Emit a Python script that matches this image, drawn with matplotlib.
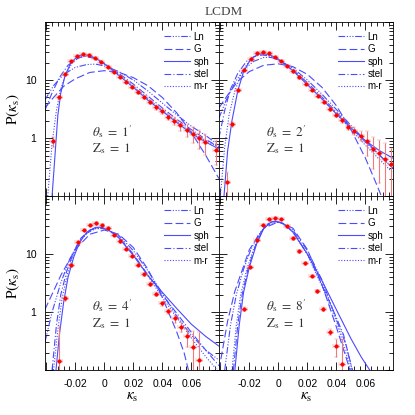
import numpy as np
import matplotlib
matplotlib.use("Agg")
import matplotlib.pyplot as plt
from matplotlib.ticker import MultipleLocator, LogLocator, FuncFormatter, NullFormatter

plt.rcParams['font.family'] = ['Liberation Sans', 'DejaVu Sans']
plt.rcParams['mathtext.fontset'] = 'stix'
plt.rcParams['axes.unicode_minus'] = False

# ---- measured points (kappa, P, fractional error) ----
theta_labels = ["1", "2", "4", "8"]
xtick_labels = {-0.02: '-0.02', 0.0: '0', 0.02: '0.02', 0.04: '0.04', 0.06: '0.06'}
ytick_labels = {1.0: '1', 10.0: '10'}

k1 = [-0.0357, -0.0310, -0.0271, -0.0230, -0.0188, -0.0145, -0.0103, -0.0062, -0.0021,
      0.0023, 0.0064, 0.0108, 0.0150, 0.0191, 0.0232, 0.0274, 0.0315, 0.0357, 0.0400,
      0.0441, 0.0483, 0.0524, 0.0568, 0.0609, 0.0650, 0.0692, 0.0770]
p1 = [0.88, 5.0, 12.7, 21.2, 26.2, 27.9, 26.9, 23.8, 20.7, 17.0, 13.9, 11.4, 9.4, 7.7,
      6.15, 5.05, 4.14, 3.40, 2.87, 2.32, 1.98, 1.65, 1.39, 1.17, 1.0, 0.85, 0.63]
e1 = [0.2, 0.08, 0.06, 0.05, 0.05, 0.05, 0.05, 0.05, 0.05, 0.05, 0.05, 0.05, 0.06, 0.06,
      0.07, 0.08, 0.08, 0.09, 0.1, 0.12, 0.15, 0.2, 0.25, 0.3, 0.35, 0.4, 0.45]

k2 = [-0.0357, -0.0322, -0.0276, -0.0237, -0.0191, -0.0150, -0.0108, -0.0064, -0.0023,
      0.0019, 0.0062, 0.0103, 0.0145, 0.0188, 0.0230, 0.0271, 0.0315, 0.0357, 0.0398,
      0.0441, 0.0483, 0.0524, 0.0568, 0.0609, 0.0650, 0.0694, 0.0736, 0.0774]
p2 = [0.176, 1.74, 6.74, 14.8, 23.3, 28.7, 29.9, 28.7, 25.2, 21.5, 17.4, 14.1, 11.1, 8.67,
      6.84, 5.4, 4.26, 3.18, 2.51, 2.01, 1.58, 1.33, 1.1, 0.9, 0.66, 0.55, 0.44, 0.36]
e2 = [0.5, 0.1, 0.06, 0.05, 0.05, 0.05, 0.05, 0.05, 0.05, 0.05, 0.05, 0.05, 0.05, 0.05,
      0.06, 0.06, 0.07, 0.08, 0.09, 0.1, 0.12, 0.15, 0.2, 0.45, 0.55, 0.7, 0.9, 0.9]

k3 = [-0.0310, -0.0269, -0.0228, -0.0184, -0.0143, -0.0101, -0.0060, -0.0019, 0.0023,
      0.0067, 0.0108, 0.0150, 0.0191, 0.0232, 0.0274, 0.0315, 0.0357, 0.0400, 0.0441,
      0.0485, 0.0526, 0.0568, 0.0609, 0.0650]
p3 = [0.145, 1.72, 6.46, 15.9, 25.9, 32.0, 33.8, 32.0, 28.0, 21.5, 16.6, 12.2, 9.25, 6.55,
      4.47, 3.08, 2.04, 1.41, 1.05, 0.78, 0.56, 0.39, 0.25, 0.15]
e3 = [3.0, 0.1, 0.06, 0.05, 0.05, 0.05, 0.05, 0.05, 0.05, 0.05, 0.05, 0.05, 0.05, 0.06,
      0.06, 0.07, 0.08, 0.08, 0.1, 0.15, 0.2, 0.35, 0.9, 2.0]

k4 = [-0.0237, -0.0195, -0.0150, -0.0108, -0.0064, -0.0023, 0.0019, 0.0060, 0.0103,
      0.0145, 0.0186, 0.0230, 0.0269, 0.0310, 0.0354, 0.0395, 0.0437]
p4 = [1.13, 6.04, 17.6, 32.0, 40.1, 42.3, 40.1, 30.0, 18.6, 11.1, 6.9, 4.22, 2.27, 1.13,
      0.46, 0.26, 0.13]
e4 = [0.08, 0.05, 0.05, 0.05, 0.05, 0.05, 0.05, 0.05, 0.05, 0.05, 0.05, 0.05, 0.06, 0.08,
      0.12, 0.35, 1.6]

# ---- model curves: (kappa list, P list) ----
curves1 = {
    "Ln": ([-0.041, -0.035, -0.028, -0.020, -0.012, -0.006, 0.0, 0.01, 0.02, 0.03, 0.04, 0.05, 0.06, 0.07, 0.079],
           [4.5, 8.0, 12.5, 16.5, 18.5, 18.8, 17.5, 14.0, 10.0, 6.5, 4.0, 2.5, 1.6, 1.1, 0.75]),
    "G": ([-0.041, -0.035, -0.028, -0.020, -0.010, 0.0, 0.01, 0.02, 0.03, 0.04, 0.05, 0.06, 0.07, 0.079],
          [3.3, 5.0, 7.8, 10.5, 13.5, 14.5, 13.6, 11.0, 8.0, 5.0, 2.7, 1.25, 0.5, 0.2]),
    "sph": ([-0.036, -0.034, -0.032, -0.030, -0.027, -0.023, -0.018, -0.014, -0.010, -0.005, 0.0, 0.01, 0.02, 0.03, 0.04, 0.05, 0.06, 0.07, 0.079],
            [0.1, 0.5, 2.5, 6.0, 12.0, 20.0, 26.0, 27.5, 26.5, 23.0, 19.0, 12.0, 7.5, 4.5, 2.9, 1.85, 1.2, 0.85, 0.65]),
    "stel": ([-0.041, -0.036, -0.031, -0.025, -0.018, -0.013, -0.008, 0.0, 0.01, 0.02, 0.03, 0.04, 0.05, 0.06, 0.07, 0.079],
             [3.0, 6.0, 11.0, 18.0, 24.0, 25.5, 24.0, 19.0, 13.0, 8.5, 5.3, 3.3, 2.1, 1.4, 0.95, 0.7]),
    "m-r": ([-0.039, -0.036, -0.033, -0.030, -0.027, -0.022, -0.016, -0.012, -0.006, 0.0, 0.01, 0.02, 0.03, 0.04, 0.05, 0.06, 0.07, 0.079],
            [0.1, 0.8, 3.0, 7.0, 12.0, 20.0, 25.5, 26.0, 24.0, 19.5, 12.5, 7.8, 4.8, 3.0, 1.95, 1.3, 0.9, 0.7]),
}
curves2 = {
    "Ln": ([-0.041, -0.036, -0.030, -0.024, -0.017, -0.010, -0.005, 0.0, 0.01, 0.02, 0.03, 0.04, 0.05, 0.06, 0.07, 0.079],
           [2.2, 4.5, 9.0, 15.0, 21.0, 24.5, 24.5, 22.5, 16.0, 10.0, 5.7, 3.1, 1.65, 0.9, 0.5, 0.3]),
    "G": ([-0.041, -0.035, -0.028, -0.020, -0.010, 0.0, 0.01, 0.02, 0.03, 0.04, 0.05, 0.06, 0.066, 0.071],
          [3.3, 5.5, 9.5, 14.0, 18.0, 19.0, 17.0, 12.5, 7.5, 3.6, 1.4, 0.45, 0.2, 0.1]),
    "sph": ([-0.0375, -0.035, -0.032, -0.028, -0.024, -0.019, -0.014, -0.010, -0.005, 0.0, 0.01, 0.02, 0.03, 0.04, 0.05, 0.06, 0.07, 0.079],
            [0.1, 0.6, 2.0, 6.5, 14.0, 23.0, 28.0, 28.5, 26.5, 23.0, 14.5, 8.3, 4.7, 2.6, 1.5, 0.9, 0.6, 0.45]),
    "stel": ([-0.041, -0.037, -0.033, -0.028, -0.022, -0.016, -0.011, -0.006, 0.0, 0.01, 0.02, 0.03, 0.04, 0.05, 0.06, 0.07, 0.079],
             [1.0, 3.0, 7.0, 13.0, 21.0, 26.0, 27.0, 26.0, 22.5, 15.0, 9.0, 5.1, 2.8, 1.55, 0.85, 0.5, 0.3]),
    "m-r": ([-0.040, -0.037, -0.034, -0.030, -0.025, -0.019, -0.014, -0.010, -0.005, 0.0, 0.01, 0.02, 0.03, 0.04, 0.05, 0.06, 0.07, 0.079],
            [0.1, 0.7, 2.5, 6.5, 14.0, 23.0, 27.0, 27.5, 25.5, 22.0, 14.5, 8.5, 4.8, 2.6, 1.4, 0.75, 0.42, 0.25]),
}
curves3 = {
    "Ln": ([-0.041, -0.036, -0.030, -0.024, -0.018, -0.012, -0.006, 0.0, 0.01, 0.02, 0.03, 0.04, 0.05, 0.06, 0.07, 0.079],
           [0.3, 1.0, 3.2, 8.0, 15.5, 23.0, 27.5, 27.5, 21.0, 11.5, 5.2, 2.1, 0.85, 0.4, 0.22, 0.15]),
    "G": ([-0.041, -0.035, -0.030, -0.020, -0.010, 0.0, 0.01, 0.02, 0.03, 0.04, 0.05, 0.055, 0.058],
          [1.1, 2.3, 4.3, 12.0, 22.0, 26.0, 22.0, 13.0, 5.5, 1.8, 0.45, 0.2, 0.1]),
    "sph": ([-0.0333, -0.031, -0.028, -0.025, -0.021, -0.017, -0.012, -0.006, -0.002, 0.003, 0.01, 0.02, 0.03, 0.04, 0.05, 0.06, 0.07, 0.079],
            [0.1, 0.4, 1.5, 4.0, 9.0, 16.0, 24.0, 29.0, 29.0, 26.0, 19.0, 9.5, 4.3, 2.2, 1.15, 0.62, 0.38, 0.26]),
    "stel": ([-0.036, -0.033, -0.030, -0.026, -0.021, -0.016, -0.010, -0.004, 0.002, 0.01, 0.02, 0.03, 0.04, 0.05, 0.06, 0.07, 0.079],
             [0.1, 0.6, 2.0, 5.0, 11.0, 19.0, 26.0, 28.5, 27.0, 20.0, 10.0, 4.4, 2.0, 0.95, 0.45, 0.22, 0.12]),
    "m-r": ([-0.035, -0.032, -0.029, -0.025, -0.020, -0.015, -0.009, -0.003, 0.003, 0.01, 0.02, 0.03, 0.04, 0.05, 0.06, 0.07, 0.078],
            [0.1, 0.5, 1.8, 5.0, 11.5, 19.5, 26.5, 28.5, 26.0, 19.5, 9.8, 4.2, 1.8, 0.8, 0.36, 0.17, 0.1]),
}
curves4 = {
    "Ln": ([-0.037, -0.033, -0.029, -0.024, -0.019, -0.014, -0.008, -0.003, 0.002, 0.01, 0.02, 0.03, 0.04, 0.046, 0.051],
           [0.1, 0.6, 2.0, 5.5, 12.0, 21.0, 31.0, 35.5, 35.0, 26.0, 11.5, 3.6, 0.75, 0.3, 0.1]),
    "G": ([-0.041, -0.035, -0.030, -0.020, -0.010, 0.0, 0.01, 0.02, 0.03, 0.04, 0.0494],
          [0.1, 0.7, 2.3, 12.0, 28.0, 36.0, 28.0, 12.0, 3.0, 0.55, 0.1]),
    "sph": ([-0.030, -0.027, -0.024, -0.020, -0.015, -0.010, -0.005, -0.002, 0.003, 0.01, 0.02, 0.03, 0.04, 0.05, 0.057, 0.063],
            [0.1, 0.6, 2.2, 6.0, 15.0, 28.0, 36.0, 37.0, 34.0, 24.0, 10.0, 3.5, 1.1, 0.35, 0.17, 0.1]),
    "stel": ([-0.031, -0.028, -0.025, -0.021, -0.016, -0.011, -0.006, -0.002, 0.003, 0.01, 0.02, 0.03, 0.04, 0.045, 0.051],
             [0.1, 0.6, 2.0, 5.5, 13.5, 26.0, 35.0, 36.5, 34.0, 24.5, 10.0, 3.0, 0.8, 0.4, 0.1]),
    "m-r": ([-0.032, -0.029, -0.026, -0.022, -0.017, -0.012, -0.007, -0.002, 0.003, 0.01, 0.02, 0.03, 0.04, 0.05],
            [0.1, 0.6, 2.0, 5.2, 12.5, 24.5, 34.0, 36.5, 34.0, 24.0, 9.8, 2.8, 0.7, 0.1]),
}

model_names = ["Ln", "G", "sph", "stel", "m-r"]
model_styles = {
    "Ln": (0, (6, 1.5, 1, 1.5, 1, 1.5, 1, 1.5)),
    "G": (0, (7, 3)),
    "sph": "-",
    "stel": (0, (6, 2, 1, 2)),
    "m-r": (0, (1, 1.5)),
}

panels = [(k1, p1, e1, curves1), (k2, p2, e2, curves2),
          (k3, p3, e3, curves3), (k4, p4, e4, curves4)]


def fmt_x(v, pos):
    for key, lab in xtick_labels.items():
        if abs(v - key) < 1e-9:
            return lab
    return ''


def fmt_y(v, pos):
    return ytick_labels.get(round(v, 6), '')


fig, axes = plt.subplots(2, 2, figsize=(4.15, 4.15), dpi=100, sharex=True, sharey=True)
fig.subplots_adjust(left=0.108, right=0.947, top=0.947, bottom=0.108, wspace=0, hspace=0)

for i, ax in enumerate(axes.flat):
    k, p, e, curves = panels[i]
    for name in model_names:
        ck, cp = curves[name]
        ax.plot(ck, cp, color='#4a4aff', lw=0.8, ls=model_styles[name], label=name)
    k = np.array(k)
    p = np.array(p)
    ax.errorbar(k, p, yerr=np.array(e) * p, xerr=0.002, fmt='o', ms=2.6,
                mfc='#ff0000', mec='#ff0000', mew=0.3, ecolor='#f07a7a', elinewidth=0.8,
                capsize=1.5, capthick=0.6, zorder=5)

    ax.set_yscale('log')
    ax.set_xlim(-0.041, 0.079)
    ax.set_ylim(0.1, 100)
    ax.xaxis.set_major_locator(MultipleLocator(0.02))
    ax.xaxis.set_minor_locator(MultipleLocator(0.004))
    ax.xaxis.set_major_formatter(FuncFormatter(fmt_x))
    ax.yaxis.set_major_locator(LogLocator(base=10))
    ax.yaxis.set_minor_locator(LogLocator(base=10, subs=np.arange(2, 10)))
    ax.yaxis.set_major_formatter(FuncFormatter(fmt_y))
    ax.yaxis.set_minor_formatter(NullFormatter())
    ax.tick_params(which='both', direction='in', top=True, right=True, labelsize=7.5, pad=6)
    ax.tick_params(which='major', length=6, width=0.6)
    ax.tick_params(which='minor', length=3, width=0.6)
    for s in ax.spines.values():
        s.set_linewidth(0.6)

    ax.legend(loc='upper right', frameon=False, fontsize=7, handlelength=2.6,
              labelspacing=0.25, borderaxespad=0.6, handletextpad=0.4)
    ax.text(0.27, 0.37, r'$\theta_{\rm s}\ =\ %s^{\prime}$' % theta_labels[i],
            transform=ax.transAxes, fontsize=9.5, va='center', color='#333333')
    ax.text(0.27, 0.27, r'${\rm Z_s}\ =\ 1$', transform=ax.transAxes,
            fontsize=9.5, va='center', color='#333333')

for ax in axes[:, 0]:
    ax.set_ylabel(r'$\mathrm{P}(\kappa_{\rm s})$', fontsize=11, labelpad=2)
for ax in axes[1, :]:
    ax.set_xlabel(r'$\kappa_{\rm s}$', fontsize=11, labelpad=1)

fig.text(0.54, 0.985, 'LCDM', family='Liberation Serif', fontsize=9.5,
         ha='center', va='top', color='#444444')

fig.savefig('out.png', dpi=100)
